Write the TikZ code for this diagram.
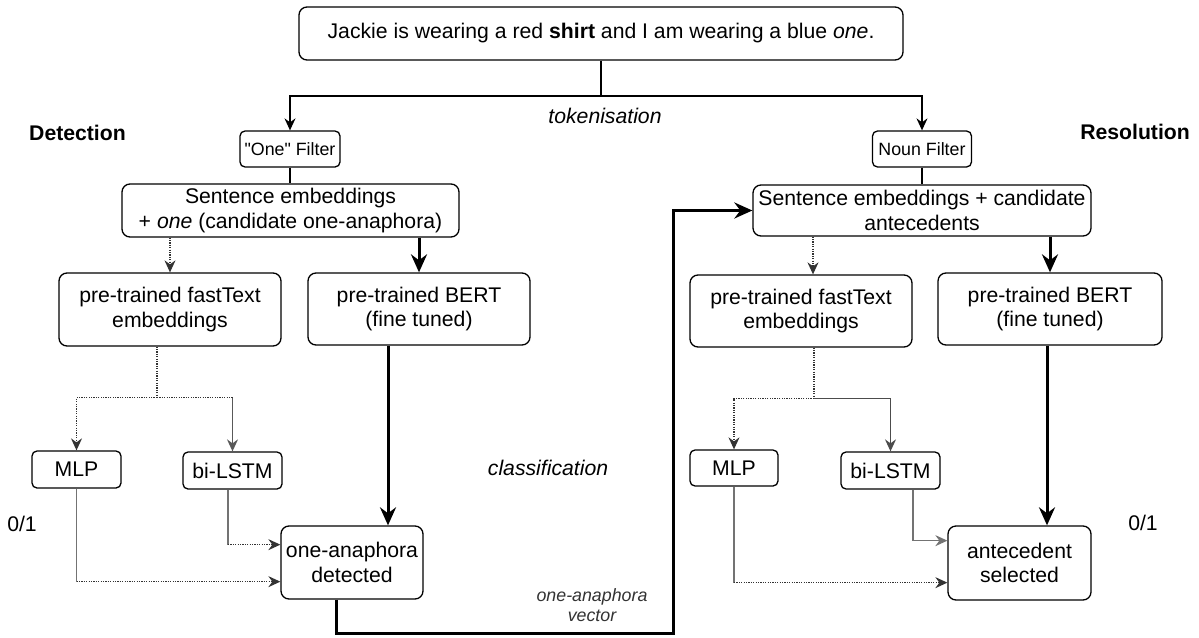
\documentclass[tikz,border=0pt]{standalone}
\usepackage{fontspec}
\setmainfont{Liberation Sans}[Ligatures=TeXOff]
\usetikzlibrary{arrows.meta}
\newcommand\mainfs{\fontsize{21.2}{24.5}\selectfont}
\newcommand\smallfs{\fontsize{17.8}{20}\selectfont}
\begin{document}
\begin{tikzpicture}[x=1pt,y=-1pt,
 box/.style={draw, rounded corners=8pt, line width=1.3pt, align=center, inner sep=0pt, font=\mainfs},
 sbox/.style={box, rounded corners=5pt},
 fbox/.style={box, rounded corners=5pt, font=\smallfs},
 tip/.style={-{Stealth[length=12pt,width=11pt,inset=4pt]}},
 thinline/.style={line width=1.3pt},
 thickarrow/.style={line width=3pt, -{Stealth[length=18pt,width=16pt,inset=6pt]}},
 dots/.style={line width=1.2pt, dash pattern=on 1.2pt off 1.2pt, draw=black!80},
 grayline/.style={line width=1.1pt, draw=black!55},
 lbl/.style={font=\mainfs, inner sep=0pt}
]
\fill[white] (0,0) rectangle (1199,637);
\useasboundingbox (0,0) rectangle (1199,637);

% boxes
\node[box, minimum width=604pt, minimum height=53pt] (top) at (601,33.5) {Jackie is wearing a red \textbf{shirt} and I am wearing a blue \textit{one}.};
\node[fbox, minimum width=100pt, minimum height=36pt] (onef) at (290,149) {"One" Filter};
\node[fbox, minimum width=99pt, minimum height=36pt] (nounf) at (922,149) {Noun Filter};
\node[box, minimum width=337pt, minimum height=53pt] (sentL) at (290.5,210.5) {Sentence embeddings\\+ \textit{one} (candidate one-anaphora)};
\node[box, minimum width=338pt, minimum height=51pt] (sentR) at (922,210.5) {Sentence embeddings + candidate\\antecedents};
\node[box, minimum width=222pt, minimum height=73pt] (ftL) at (170,309.5) {pre-trained fastText\\embeddings};
\node[box, minimum width=222pt, minimum height=72pt] (bertL) at (419,309) {pre-trained BERT\\(fine tuned)};
\node[box, minimum width=222pt, minimum height=72pt] (ftR) at (801,311) {pre-trained fastText\\embeddings};
\node[box, minimum width=224pt, minimum height=72pt] (bertR) at (1050,309) {pre-trained BERT\\(fine tuned)};
\node[sbox, minimum width=89pt, minimum height=37pt] (mlpL) at (76.5,469.5) {MLP};
\node[sbox, minimum width=99pt, minimum height=37pt] (lstmL) at (232.5,470.5) {bi-LSTM};
\node[sbox, minimum width=88pt, minimum height=36pt] (mlpR) at (734,468) {MLP};
\node[sbox, minimum width=99pt, minimum height=37pt] (lstmR) at (890.5,470.5) {bi-LSTM};
\node[box, minimum width=142pt, minimum height=73pt] (onea) at (352,562.5) {one-anaphora\\detected};
\node[box, minimum width=143pt, minimum height=74pt] (ante) at (1019.5,563) {antecedent\\selected};

% labels
\node[lbl, font=\mainfs\bfseries, anchor=west] (det) at (29,133) {Detection};
\node[lbl, font=\mainfs\bfseries, anchor=east] (res) at (1190,132) {Resolution};
\node[lbl, font=\mainfs\itshape] (tok) at (605,116) {tokenisation};
\node[lbl, font=\mainfs\itshape] (cls) at (548,468) {classification};
\node[lbl, font=\smallfs\itshape, text=black!80, align=center] (vec) at (592,605) {one-anaphora\\vector};
\node[lbl] (zoL) at (22,524) {0/1};
\node[lbl] (zoR) at (1143,523) {0/1};

% top split
\coordinate (split) at (601,96);
\draw[thinline] (top.south) -- (split);
\draw[thinline, tip] (split) -| (onef.north);
\draw[thinline, tip] (split) -| (nounf.north);

% filters to sentence boxes
\draw[line width=2.5pt] (onef.south) -- (onef.south |- sentL.north);
\draw[line width=2.5pt] (nounf.south) -- (nounf.south |- sentR.north);

% sentence boxes to model boxes
\draw[dots, tip] (sentL.south -| ftL.north) -- (ftL.north);
\draw[thickarrow] (sentL.south -| bertL.north) -- (bertL.north);
\coordinate (ftRin) at ([xshift=12pt]ftR.north);
\draw[dots, tip] (sentR.south -| ftRin) -- (ftRin);
\draw[thickarrow] (sentR.south -| bertR.north) -- (bertR.north);

% left branching
\coordinate (jL) at ([xshift=-13pt,yshift=-51pt]ftL.south);
\draw[dots] ([xshift=-13pt]ftL.south) -- (jL);
\draw[dots, tip] (jL) -| (mlpL.north);
\draw[dots] (jL) -- (jL -| lstmL.north);
\draw[line width=1.3pt, draw=black!65, tip] (jL -| lstmL.north) -- (lstmL.north);

% right branching
\coordinate (jR) at ([xshift=13pt,yshift=-51pt]ftR.south);
\draw[dots] ([xshift=13pt]ftR.south) -- (jR);
\draw[dots, tip] (jR) -| (mlpR.north);
\draw[line width=1.2pt, draw=black!70, tip] (jR) -| (lstmR.north);

% left classifiers to one-anaphora
\coordinate (mL) at ([yshift=-93pt]mlpL.south);
\draw[grayline] (mlpL.south) -- (mL);
\draw[dots, tip] (mL) -- (mL -| onea.west);
\coordinate (bL) at ([xshift=-4.5pt,yshift=-55pt]lstmL.south);
\draw[grayline] ([xshift=-4.5pt]lstmL.south) -- (bL);
\draw[dots, tip] (bL) -- (bL -| onea.west);

% right classifiers to antecedent
\coordinate (mR) at ([yshift=-96pt]mlpR.south);
\draw[grayline] (mlpR.south) -- (mR);
\draw[dots, tip] (mR) -- (mR -| ante.west);
\coordinate (bR) at ([xshift=22.5pt,yshift=-51pt]lstmR.south);
\draw[grayline, tip] ([xshift=22.5pt]lstmR.south) -- (bR) -- (bR -| ante.west);

% BERT to outputs
\draw[thickarrow] ([xshift=-31pt]bertL.south) -- ([xshift=-31pt]bertL.south |- onea.north);
\draw[thickarrow] ([xshift=-3pt]bertR.south) -- ([xshift=-3pt]bertR.south |- ante.north);

% one-anaphora vector connector
\coordinate (v2) at (673,633);
\draw[thickarrow] ([xshift=-16pt]onea.south) -- ([xshift=-16pt]onea.south |- v2) -- (v2) |- (sentR.west);
\end{tikzpicture}
\end{document}
